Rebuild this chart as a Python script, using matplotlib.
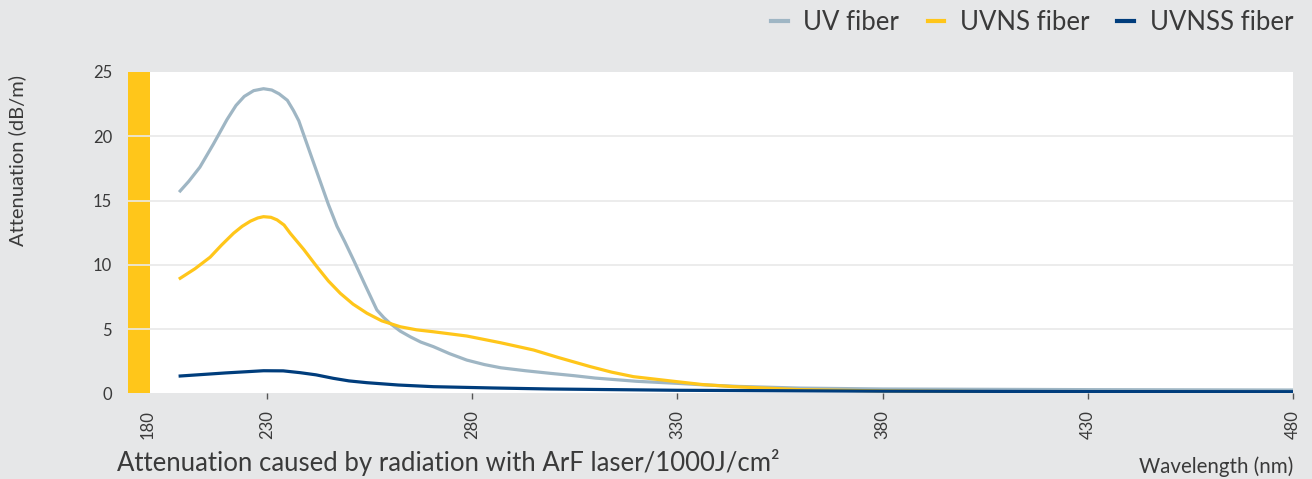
import matplotlib.pyplot as plt

# -----------------------------
# DATA
# -----------------------------
uv_nm = [208.9, 211.0, 213.7, 217.0, 220.3, 222.5, 224.5, 226.8, 229.2, 231.2,
         233.0, 235.0, 236.5, 237.8, 238.9, 241.0, 243.0, 245.0, 247.1, 249.0,
         251.1, 254.0, 256.8, 258.5, 260.0, 262.5, 265.0, 267.5, 270.6, 274.5,
         278.7, 283.0, 287.0, 293.0, 299.0, 305.0, 310.0, 320.0, 330.0, 337.0,
         345.0, 360.0, 380.0, 430.0, 480.0]
uv_att = [15.75, 16.5, 17.6, 19.4, 21.3, 22.4, 23.1, 23.55, 23.7, 23.6,
          23.3, 22.8, 22.0, 21.2, 20.2, 18.3, 16.5, 14.7, 13.0, 11.8,
          10.4, 8.4, 6.5, 5.9, 5.46, 4.85, 4.4, 4.0, 3.64, 3.1,
          2.6, 2.25, 2.0, 1.77, 1.57, 1.38, 1.2, 0.95, 0.79, 0.66,
          0.55, 0.42, 0.35, 0.3, 0.27]

uvns_nm = [208.9, 212.5, 216.2, 219.0, 221.9, 224.0, 226.0, 227.8, 229.2, 231.0,
           232.5, 234.2, 235.7, 239.0, 242.2, 245.0, 247.9, 251.0, 254.4, 258.0,
           262.5, 266.5, 270.6, 278.7, 286.9, 295.0, 301.0, 308.8, 314.0, 319.3,
           329.9, 336.0, 343.7, 360.0, 380.0, 430.0, 480.0]
uvns_att = [8.96, 9.7, 10.6, 11.55, 12.46, 13.0, 13.4, 13.65, 13.75, 13.7,
            13.5, 13.1, 12.46, 11.2, 9.86, 8.75, 7.79, 6.95, 6.24, 5.65,
            5.19, 4.95, 4.8, 4.47, 3.95, 3.38, 2.8, 2.09, 1.66, 1.31,
            0.92, 0.7, 0.53, 0.3, 0.2, 0.1, 0.04]

uvnss_nm = [208.9, 220.0, 229.2, 234.0, 238.1, 242.0, 246.2, 250.0, 254.4, 262.0,
            270.6, 285.0, 299.0, 330.0, 380.0, 430.0, 480.0]
uvnss_att = [1.36, 1.6, 1.77, 1.76, 1.62, 1.45, 1.18, 0.98, 0.84, 0.66,
             0.53, 0.43, 0.35, 0.25, 0.18, 0.15, 0.14]

series_labels = ["UV fiber", "UVNS fiber", "UVNSS fiber"]
series_colors = ["#9fb6c4", "#ffc61a", "#003d7c"]

# the first category label sits at ~201 nm on the drawn scale
tick_pos = [201, 230, 280, 330, 380, 430, 480]
tick_labels = ["180", "230", "280", "330", "380", "430", "480"]
y_ticks = [0, 5, 10, 15, 20, 25]

BG = "#e6e7e8"
TXT = "#3a3a3a"

plt.rcParams["font.family"] = ["Lato", "DejaVu Sans"]

fig = plt.figure(figsize=(13.12, 4.79), dpi=100, facecolor=BG)
ax = fig.add_axes([0.0976, 0.1785, 0.888, 0.6712])
ax.set_facecolor("white")

# yellow band on the left
ax.axvspan(196.2, 201.6, color="#ffc61a", zorder=1, lw=0)

# grid
for yv in y_ticks[1:-1]:
    ax.axhline(yv, color="#e9e9e9", lw=1.2, zorder=2)

ax.plot(uv_nm, uv_att, color=series_colors[0], lw=2.3, zorder=3,
        label=series_labels[0], solid_joinstyle="round")
ax.plot(uvns_nm, uvns_att, color=series_colors[1], lw=2.3, zorder=4,
        label=series_labels[1], solid_joinstyle="round")
ax.plot(uvnss_nm, uvnss_att, color=series_colors[2], lw=2.3, zorder=5,
        label=series_labels[2], solid_joinstyle="round")

ax.set_xlim(196.2, 480)
ax.set_ylim(0, 25)

ax.set_yticks(y_ticks)
ax.set_yticklabels([str(v) for v in y_ticks])
ax.set_xticks(tick_pos)
ax.set_xticklabels(tick_labels, rotation=90)

ax.tick_params(axis="y", length=0, pad=11.5, labelsize=12, labelcolor=TXT)
ax.tick_params(axis="x", length=4, width=1, color="#555555", pad=8,
               labelsize=12, labelcolor=TXT)
ax.xaxis.get_major_ticks()[0].tick1line.set_visible(False)

for s in ax.spines.values():
    s.set_visible(False)

# texts
fig.text(0.013, 0.665, "Attenuation (dB/m)", rotation=90, ha="center",
         va="center", fontsize=14.5, color=TXT)
fig.text(0.089, 0.016, "Attenuation caused by radiation with ArF laser/1000J/cm²",
         ha="left", va="baseline", fontsize=18.5, color=TXT)
fig.text(0.9855, 0.0125, "Wavelength (nm)", ha="right", va="baseline",
         fontsize=14.8, color=TXT)

leg = fig.legend(loc="upper right", bbox_to_anchor=(1293 / 1312, 1 - 10 / 479),
                 ncol=3, frameon=False, fontsize=18.5, handlelength=0.65,
                 handletextpad=0.6, columnspacing=1.1, borderpad=0,
                 borderaxespad=0, labelcolor=TXT)
for h in leg.get_lines():
    h.set_linewidth(3)

plt.savefig("out.png", dpi=100, facecolor=BG)
